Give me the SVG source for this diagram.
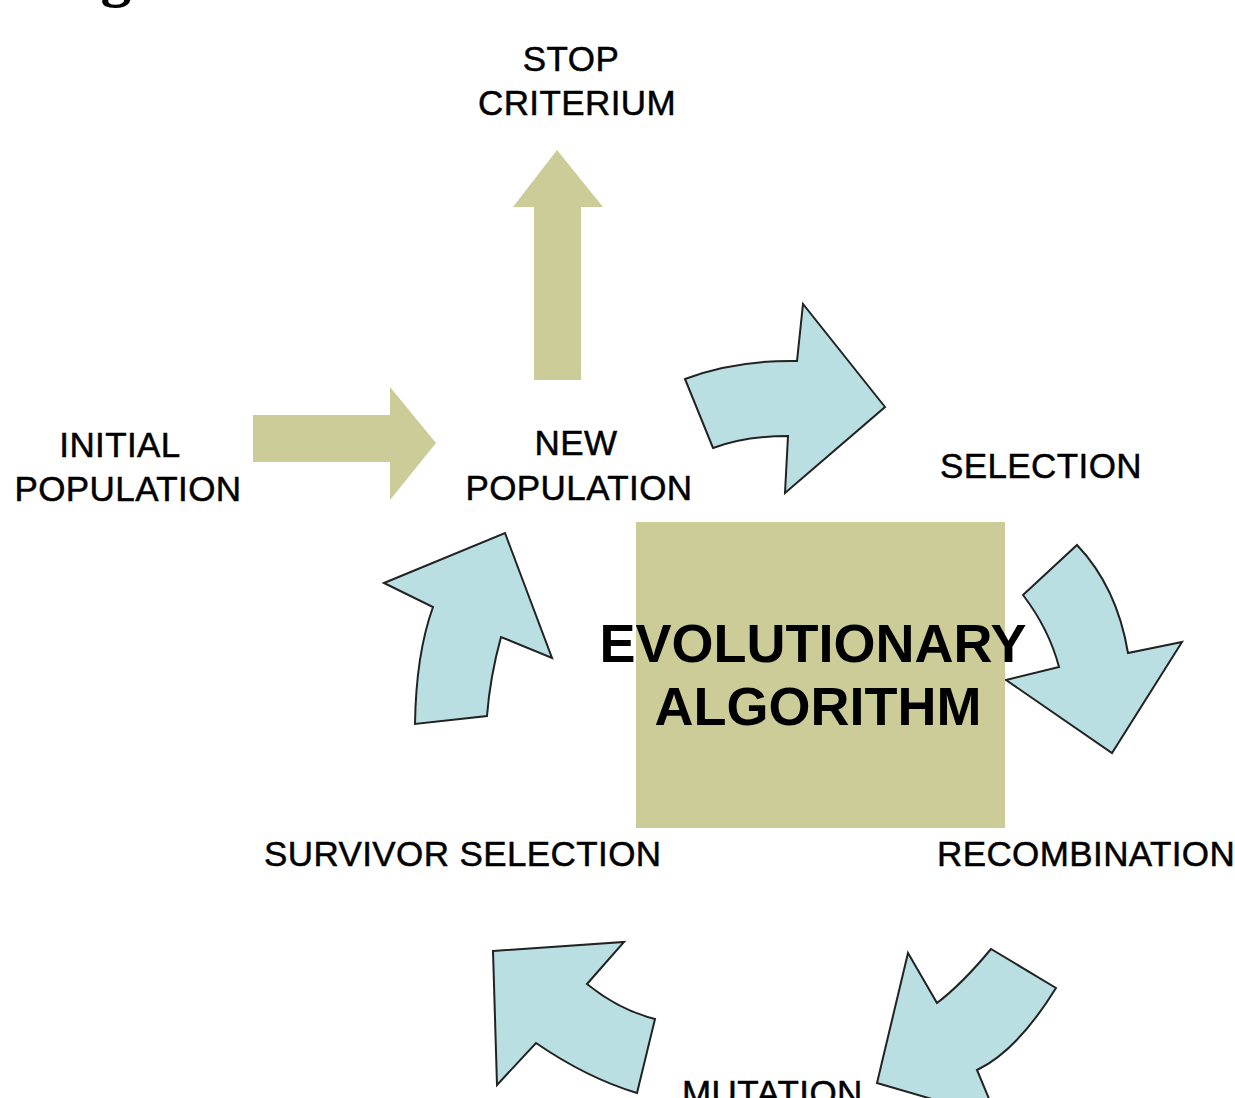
<svg xmlns="http://www.w3.org/2000/svg" width="1235" height="1098" viewBox="0 0 1235 1098">
<style>
.lbl{font-family:"Liberation Sans",Arial,sans-serif;font-size:35px;fill:#000;stroke:#000;stroke-width:0.5px;letter-spacing:0.4px;}
.big{font-family:"Liberation Sans",Arial,sans-serif;font-size:54px;font-weight:bold;fill:#000;}
.khaki{fill:#CCCC99;stroke:none;}
.cyc{fill:#B9DFE3;stroke:#222;stroke-width:2;stroke-linejoin:miter;}
</style>
<rect width="1235" height="1098" fill="#fff"/>
<text x="116" y="-5" text-anchor="middle" font-family="Liberation Serif,serif" font-weight="bold" font-size="62">g</text>
<g id="connectors">
<path id="arrow-init" class="khaki" d="M253,415 L390,415 L390,387 L436,443 L390,500 L390,462 L253,462 Z"/>
<path id="arrow-stop" class="khaki" d="M534,380 L534,207 L513,207 L557,150 L603,207 L581,207 L581,380 Z"/>
<path id="arrow-sel" class="cyc" d="M685,379 Q735,360 797,361 L803,304 L885,407 L785,493 L788,436 Q745,436 713,448 Z"/>
<path id="arrow-rec" class="cyc" d="M1023,595 L1077,545 Q1117,587 1128,653 L1182,642 L1112,753 L1006,680 L1059,667 Q1049,629 1023,595 Z"/>
<path id="arrow-mut" class="cyc" d="M908,953 L937,1003 Q962,984 991,949 L1056,988 Q1017,1051 977,1070 L997,1118 L877,1083 Z"/>
<path id="arrow-surv" class="cyc" d="M493,951 L624,942 L587,984 Q619,1010 655,1019 L637,1093 Q587,1078 536,1043 L497,1085 Z"/>
<path id="arrow-new" class="cyc" d="M384,583 L505,533 L552,658 L501,637 Q490,677 487,716 L415,724 Q416,654 433,607 Z"/>
</g>
<g id="node-ea">
<rect x="636" y="522" width="369" height="306" fill="#CCCC99"/>
<text class="big" x="813" y="662" text-anchor="middle">EVOLUTIONARY</text>
<text class="big" x="818" y="725" text-anchor="middle">ALGORITHM</text>
</g>
<g id="node-stop">
<text class="lbl" x="571" y="71" text-anchor="middle">STOP</text>
<text class="lbl" x="577" y="115" text-anchor="middle">CRITERIUM</text>
</g>
<g id="node-initial">
<text class="lbl" x="120" y="457" text-anchor="middle">INITIAL</text>
<text class="lbl" x="128" y="501" text-anchor="middle">POPULATION</text>
</g>
<g id="node-new">
<text class="lbl" x="576" y="455" text-anchor="middle">NEW</text>
<text class="lbl" x="579" y="500" text-anchor="middle">POPULATION</text>
</g>
<g id="node-selection">
<text class="lbl" x="1041" y="478" text-anchor="middle">SELECTION</text>
</g>
<g id="node-survivor">
<text class="lbl" x="264" y="866">SURVIVOR SELECTION</text>
</g>
<g id="node-recombination">
<text class="lbl" x="937" y="866" letter-spacing="0.1">RECOMBINATION</text>
</g>
<g id="node-mutation">
<text class="lbl" x="682" y="1105">MUTATION</text>
</g>
</svg>
